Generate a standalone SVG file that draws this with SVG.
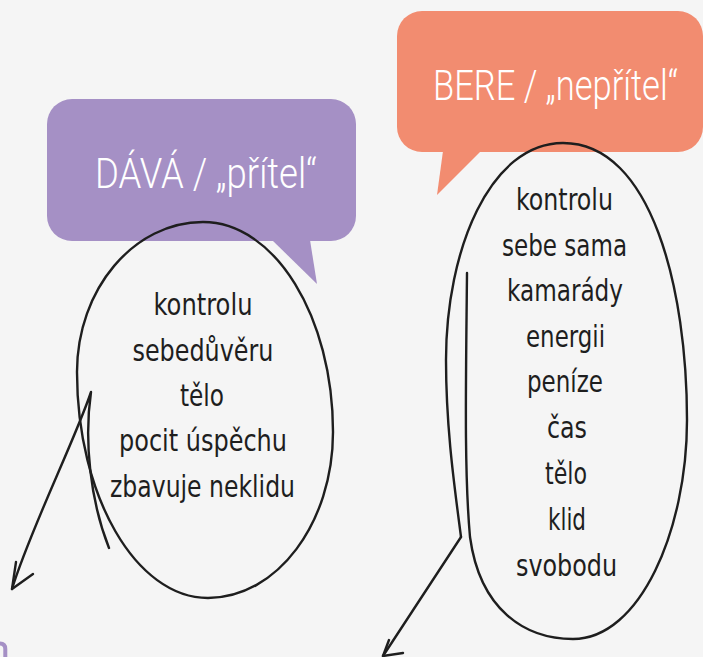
<svg xmlns="http://www.w3.org/2000/svg" width="703" height="657" viewBox="0 0 703 657">
<defs>
<style>
.bg{fill:#f5f5f5}
.ln{fill:none;stroke:#1e1e1e;stroke-width:2.4;stroke-linecap:round;stroke-linejoin:round}
.title{font-family:Roboto,"Liberation Sans Narrow","Liberation Sans",sans-serif;font-weight:300;font-size:42px;fill:#ffffff;text-anchor:middle}
.item{font-family:"Liberation Sans Narrow","DejaVu Sans Condensed","Liberation Sans",sans-serif;font-size:31px;fill:#1e1e1e;text-anchor:middle}
</style>
</defs>
<rect class="bg" x="0" y="0" width="703" height="657"/>

<g id="bubble-dava">
<rect x="47" y="99" width="309" height="142" rx="25" fill="#a590c5"/>
<polygon points="272,240 310,240 317,284" fill="#a590c5"/>
<text class="title" x="206" y="188" textLength="222" lengthAdjust="spacingAndGlyphs">DÁVÁ / „přítel“</text>
</g>

<g id="bubble-bere">
<rect x="397" y="11" width="306" height="141" rx="25" fill="#f28c70"/>
<polygon points="443,151 481,151 437,195" fill="#f28c70"/>
<text class="title" x="555.5" y="100" textLength="245" lengthAdjust="spacingAndGlyphs">BERE / „nepřítel“</text>
</g>

<g id="oval-dava">
<path class="ln" d="M203,222 C275,222 333,317 333,432 C333,523 277,598 208,598 C136,598 77,496 77,372 C77,289 134,222 203,222 Z"/>
<text class="item" x="203" y="315" textLength="99" lengthAdjust="spacingAndGlyphs">kontrolu</text>
<text class="item" x="203" y="360.5" textLength="141" lengthAdjust="spacingAndGlyphs">sebedůvěru</text>
<text class="item" x="202" y="405.5" textLength="44" lengthAdjust="spacingAndGlyphs">tělo</text>
<text class="item" x="203" y="450.5" textLength="168" lengthAdjust="spacingAndGlyphs">pocit úspěchu</text>
<text class="item" x="202.5" y="496.5" textLength="185" lengthAdjust="spacingAndGlyphs">zbavuje neklidu</text>
</g>

<g id="oval-bere">
<path class="ln" d="M467,273 C466,380 464,470 470,537 C480,610 525,639 573,639 C640,639 687,530 687,420 C687,290 652,143 563,143 C490,143 446,250 446,360 C446,430 455,490 461,537"/>
<text class="item" x="564.5" y="210" textLength="97" lengthAdjust="spacingAndGlyphs">kontrolu</text>
<text class="item" x="564.5" y="256" textLength="125" lengthAdjust="spacingAndGlyphs">sebe sama</text>
<text class="item" x="565" y="301" textLength="116" lengthAdjust="spacingAndGlyphs">kamarády</text>
<text class="item" x="565.5" y="347" textLength="79" lengthAdjust="spacingAndGlyphs">energii</text>
<text class="item" x="565" y="392" textLength="76" lengthAdjust="spacingAndGlyphs">peníze</text>
<text class="item" x="567" y="438" textLength="40" lengthAdjust="spacingAndGlyphs">čas</text>
<text class="item" x="566" y="484" textLength="42" lengthAdjust="spacingAndGlyphs">tělo</text>
<text class="item" x="567" y="530" textLength="38" lengthAdjust="spacingAndGlyphs">klid</text>
<text class="item" x="566.5" y="576" textLength="101" lengthAdjust="spacingAndGlyphs">svobodu</text>
</g>

<g id="connectors">
<path class="ln" d="M109,548 C90,500 84,440 91,392 C75,440 30,530 12,589"/>
<path class="ln" d="M16,562 L12,589 L33,574"/>
<path class="ln" d="M461,537 L383,656"/>
<path class="ln" d="M389,640 L383,656 L403,653"/>
</g>

<path d="M0,643.5 Q5.3,643.5 5.3,649 L5.3,657" fill="none" stroke="#a590c5" stroke-width="4"/>
</svg>
